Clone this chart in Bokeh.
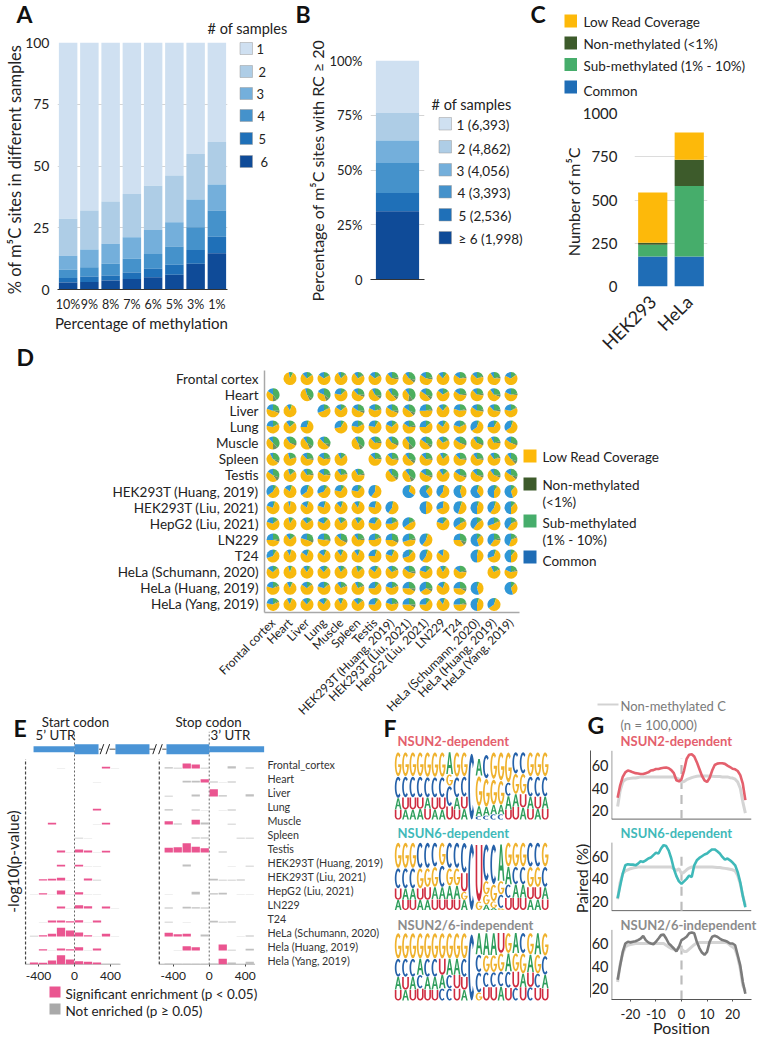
import numpy as np
from math import pi
from bokeh.plotting import figure
from bokeh.layouts import row, column
from bokeh.models import (Label, BoxAnnotation, FactorRange, Range1d, FixedTicker,
                          ColumnDataSource)
from bokeh.embed import file_html
from bokeh.resources import INLINE

FONT = "Lato"
BLUES = ["#cfe0f1", "#aecde6", "#74afdb", "#4592cb", "#1f70b8", "#0f4b98"]
C_YEL, C_DRK, C_GRN, C_BLU = "#fdb90a", "#3d5b2b", "#46ad6b", "#1f6db6"

# ---------- panel A: cumulative tops of the stack per number of samples
a_labels = ["10%", "9%", "8%", "7%", "6%", "5%", "3%", "1%"]
a_top6 = [2.8, 3.0, 3.6, 4.3, 5.0, 6.0, 10.4, 14.7]
a_top5 = [4.7, 5.3, 5.7, 6.9, 8.4, 10.0, 16.0, 21.4]
a_top4 = [8.0, 9.0, 10.4, 12.4, 14.4, 17.4, 25.2, 32.0]
a_top3 = [13.7, 16.2, 18.5, 21.2, 24.1, 27.2, 36.4, 42.5]
a_top2 = [28.6, 32.0, 35.6, 38.7, 42.0, 46.2, 54.9, 59.7]
a_top1 = [100, 100, 100, 100, 100, 100, 100, 100]
a_legend = ["1", "2", "3", "4", "5", "6"]

# ---------- panel B
b_tops = [100, 76.0, 63.5, 53.2, 39.5, 31.2]
b_legend = ["1 (6,393)", "2 (4,862)", "3 (4,056)", "4 (3,393)", "5 (2,536)", "\u2265 6 (1,998)"]

# ---------- panel C
c_cells = ["HEK293", "HeLa"]
c_common = [174, 174]
c_sub = [67, 407]
c_non = [12, 152]
c_low = [291, 157]
c_legend = ["Low Read Coverage", "Non-methylated (<1%)", "Sub-methylated (1% - 10%)", "Common"]

# ---------- panel D: per cent of each pie
d_samples = ["Frontal cortex", "Heart", "Liver", "Lung", "Muscle", "Spleen", "Testis",
             "HEK293T (Huang, 2019)", "HEK293T (Liu, 2021)", "HepG2 (Liu, 2021)", "LN229", "T24",
             "HeLa (Schumann, 2020)", "HeLa (Huang, 2019)", "HeLa (Yang, 2019)"]
d_blue = [
    [0, 3, 12, 15, 8, 10, 14, 12, 10, 15, 12, 15, 13, 9, 18],
    [15, 0, 5, 18, 22, 12, 8, 10, 10, 15, 14, 15, 12, 10, 18],
    [20, 8, 0, 30, 15, 15, 18, 15, 15, 25, 12, 20, 15, 12, 22],
    [22, 10, 25, 0, 28, 22, 22, 18, 15, 25, 15, 20, 35, 25, 35],
    [12, 10, 10, 12, 0, 8, 12, 10, 10, 15, 12, 15, 10, 8, 15],
    [8, 5, 12, 15, 8, 0, 12, 12, 10, 12, 8, 12, 10, 10, 10],
    [15, 5, 10, 15, 10, 8, 0, 10, 10, 15, 10, 15, 12, 10, 15],
    [35, 15, 35, 30, 22, 22, 40, 0, 65, 60, 40, 55, 60, 50, 55],
    [20, 5, 15, 20, 12, 10, 22, 40, 0, 50, 30, 45, 50, 40, 50],
    [20, 4, 12, 18, 8, 8, 22, 25, 35, 0, 20, 35, 40, 30, 40],
    [25, 10, 20, 22, 12, 10, 25, 25, 30, 40, 0, 25, 55, 40, 45],
    [30, 8, 15, 15, 10, 10, 25, 20, 30, 40, 15, 0, 50, 30, 50],
    [15, 5, 10, 12, 8, 5, 15, 12, 15, 20, 8, 15, 0, 8, 18],
    [20, 8, 15, 20, 10, 8, 25, 20, 25, 35, 15, 25, 55, 0, 55],
    [22, 8, 12, 15, 8, 12, 25, 20, 25, 25, 10, 25, 50, 35, 0],
]
d_green = [
    [0, 8, 14, 15, 12, 14, 14, 22, 28, 22, 10, 20, 18, 20, 14],
    [40, 0, 35, 35, 12, 25, 28, 30, 40, 30, 15, 22, 22, 25, 22],
    [25, 5, 0, 15, 12, 25, 18, 25, 30, 20, 10, 20, 22, 22, 15],
    [15, 12, 5, 0, 8, 15, 8, 12, 20, 12, 8, 15, 5, 8, 5],
    [38, 25, 33, 28, 0, 35, 20, 25, 38, 30, 15, 25, 25, 20, 25],
    [28, 18, 22, 20, 12, 0, 20, 22, 28, 22, 12, 22, 22, 18, 30],
    [30, 12, 20, 20, 18, 20, 0, 30, 35, 25, 12, 25, 25, 25, 28],
    [8, 5, 5, 8, 8, 10, 2, 0, 5, 10, 3, 5, 5, 8, 10],
    [5, 2, 4, 4, 5, 5, 3, 3, 0, 2, 2, 5, 5, 5, 10],
    [12, 8, 12, 10, 12, 10, 8, 15, 15, 0, 10, 15, 12, 15, 15],
    [22, 12, 25, 22, 25, 20, 15, 25, 20, 5, 0, 30, 10, 20, 15],
    [8, 3, 5, 6, 6, 5, 5, 6, 10, 5, 2, 0, 3, 5, 10],
    [12, 5, 8, 10, 10, 12, 8, 15, 22, 12, 8, 20, 0, 15, 18],
    [15, 6, 12, 12, 15, 15, 10, 15, 25, 25, 5, 25, 5, 0, 10],
    [15, 5, 10, 8, 6, 12, 8, 18, 25, 10, 5, 20, 5, 5, 0],
]
d_dark = [
    [0, 0, 2, 2, 2, 3, 3, 5, 8, 5, 0, 4, 3, 5, 2],
    [10, 0, 8, 10, 2, 6, 8, 8, 12, 8, 2, 5, 5, 6, 4],
    [6, 0, 0, 3, 2, 6, 4, 6, 8, 5, 2, 4, 5, 5, 3],
    [3, 2, 0, 0, 1, 3, 1, 2, 5, 2, 1, 3, 1, 1, 1],
    [12, 7, 10, 8, 0, 10, 5, 7, 12, 8, 3, 6, 6, 5, 6],
    [7, 3, 5, 4, 2, 0, 5, 5, 8, 5, 2, 5, 5, 4, 8],
    [10, 3, 5, 5, 4, 5, 0, 8, 10, 6, 2, 6, 6, 6, 8],
    [2, 1, 1, 2, 2, 2, 0, 0, 1, 2, 0, 1, 1, 2, 2],
    [1, 0, 1, 1, 1, 1, 1, 1, 0, 0, 0, 1, 1, 1, 2],
    [3, 2, 3, 2, 3, 2, 2, 4, 4, 0, 2, 4, 3, 4, 4],
    [7, 3, 7, 6, 8, 5, 4, 8, 6, 1, 0, 10, 3, 6, 4],
    [2, 1, 1, 1, 1, 1, 1, 1, 2, 1, 0, 0, 1, 1, 2],
    [3, 1, 2, 2, 3, 3, 2, 4, 7, 3, 2, 5, 0, 3, 5],
    [4, 1, 3, 3, 4, 4, 2, 4, 8, 8, 1, 8, 1, 0, 2],
    [4, 1, 2, 2, 1, 3, 2, 5, 8, 2, 1, 6, 1, 1, 0],
]
PIE_COLS = dict(green="#4caf5f", dark="#6f8f62", yellow="#f7b90e", blue="#2f97d6")

# ---------- panel E: (bin start, bar height) per row; one row is 42 height units
e_rows = ["Frontal_cortex", "Heart", "Liver", "Lung", "Muscle", "Spleen", "Testis",
          "HEK293T (Huang, 2019)", "HEK293T (Liu, 2021)", "HepG2 (Liu, 2021)", "LN229", "T24",
          "HeLa (Schumann, 2020)", "Hela (Huang, 2019)", "Hela (Yang, 2019)"]
e_start_sig = [
    [(300, 5)], [], [], [(200, 5)], [(-300, 5), (300, 5)], [],
    [(-200, 6), (0, 9), (100, 6), (300, 5)],
    [(-200, 5), (0, 5)],
    [(-400, 4), (-300, 5), (-200, 8), (100, 6)],
    [(-400, 4), (-200, 12), (0, 7)],
    [(-200, 6), (0, 10), (100, 7), (300, 6)],
    [(-300, 6), (-200, 6), (-100, 4), (0, 7), (200, 6)],
    [(-400, 4), (-300, 8), (-200, 26), (-100, 18), (0, 12), (100, 4), (300, 8)],
    [(-400, 4), (-200, 6), (-100, 4), (0, 10), (200, 6)],
    [(-500, 6), (-400, 5), (-300, 12), (-200, 28), (-100, 15), (0, 10), (100, 8), (200, 6)],
]
e_start_not = [
    [(-200, 1), (400, 1)], [(200, 1)], [], [], [(200, 1)], [(0, 2), (100, 1)],
    [(-100, 1), (200, 1)], [(100, 1), (200, 1)], [(-100, 1), (200, 2)],
    [(-500, 1), (-300, 1), (-100, 1), (100, 1), (200, 1)], [(-100, 1), (400, 1)],
    [(-400, 1), (100, 1)], [(-500, 2), (200, 1), (400, 1)], [(-300, 1), (100, 1)],
    [(300, 2), (400, 2)],
]
e_stop_sig = [
    [(-300, 15), (-200, 12)], [(-100, 10)], [(0, 22)], [], [(-500, 10), (-200, 14)], [],
    [(-500, 14), (-400, 16), (-300, 28), (-200, 17), (-100, 13)],
    [], [], [], [], [],
    [(-500, 11), (-400, 7), (-300, 8)], [(-300, 13), (-200, 10), (100, 18)], [(100, 17)],
]
e_stop_not = [
    [(-500, 4), (-400, 2), (-100, 2), (200, 7), (400, 3)],
    [(-300, 5), (-200, 5), (0, 3), (100, 1), (200, 3)],
    [(-500, 2), (-200, 6), (100, 4), (400, 7)],
    [(-500, 4), (-200, 3), (-100, 1), (100, 1), (200, 3)],
    [(-400, 3), (-100, 6), (200, 2)],
    [(-200, 3), (-100, 3), (300, 2), (400, 2)],
    [(100, 3)],
    [(-300, 6), (200, 1), (400, 2)],
    [(0, 5), (100, 2), (200, 2), (300, 3)],
    [(-500, 1), (-200, 8), (0, 4), (100, 5), (300, 1), (400, 1)],
    [(-500, 3), (-300, 5), (-200, 4), (-100, 3)],
    [(-500, 2), (-300, 1), (0, 5), (100, 2), (200, 3)],
    [(-100, 6), (300, 1), (400, 3)],
    [(-400, 1), (200, 2), (400, 5)],
    [(-500, 3), (-400, 2), (-300, 2), (-200, 2), (-100, 2), (0, 3), (200, 6), (300, 1), (400, 8)],
]

# ---------- panel F: letters top to bottom and their heights, per position
f_titles = ["NSUN2-dependent", "NSUN6-dependent", "NSUN2/6-independent"]
f_colors = ["#e4606d", "#3fb9b9", "#8c8c8c"]
f1_letters = ["GCAU", "GCUA", "GCUA", "GCUA", "GCAU", "GCUA", "GCUA", "AGCU", "GCAU", "GCUA", "C",
              "AGAC", "CGAC", "GGAC", "GGAC", "GCAU", "CGAU", "CGUA", "GCAU", "GCUA", "GCAU"]
f1_heights = [[.36, .32, .17, .15], [.36, .31, .18, .15], [.36, .31, .18, .15], [.36, .31, .17, .16],
              [.37, .30, .17, .16], [.37, .30, .18, .15], [.37, .30, .18, .15], [.33, .17, .30, .20],
              [.37, .30, .18, .15], [.36, .30, .18, .16], [1.0],
              [.25, .45, .15, .05], [.35, .42, .13, .06], [.40, .38, .14, .08], [.42, .36, .14, .08],
              [.45, .20, .20, .15], [.32, .30, .19, .19], [.32, .30, .20, .18], [.36, .30, .18, .16],
              [.36, .30, .18, .16], [.36, .30, .18, .16]]
f2_letters = ["GCUA", "GCAU", "GCAU", "CGUA", "CGUA", "CGAU", "GCAU", "CGAU", "CGAU", "CUGA", "C",
              "UG", "CGGA", "CGGA", "AGCG", "GACU", "GCAU", "GCAU", "CGUA", "CGUA", "GCAU"]
f2_heights = [[.38, .30, .17, .15], [.38, .30, .17, .15], [.38, .30, .17, .15], [.38, .30, .17, .15],
              [.38, .28, .19, .15], [.36, .30, .18, .16], [.34, .32, .18, .16], [.38, .26, .20, .16],
              [.38, .26, .20, .16], [.45, .28, .12, .15], [1.0],
              [.85, .13], [.55, .20, .15, .08], [.60, .25, .10, .03], [.55, .20, .20, .03],
              [.36, .26, .20, .18], [.36, .26, .20, .18], [.36, .26, .20, .18], [.36, .30, .18, .16],
              [.36, .30, .18, .16], [.36, .30, .18, .16]]
f3_letters = ["GCAU", "GCUA", "GCAU", "GACU", "GCAU", "GCAU", "GUAC", "GACC", "GAUU", "GCUA", "C",
              "ACCG", "AGCU", "AGCU", "UGCA", "GACU", "AGUC", "CGAU", "GAUC", "AGCU", "GCAU"]
f3_heights = [[.38, .27, .19, .16], [.38, .27, .19, .16], [.38, .27, .19, .16], [.38, .24, .20, .18],
              [.38, .27, .19, .16], [.38, .27, .19, .16], [.38, .24, .20, .18], [.38, .24, .20, .18],
              [.38, .24, .20, .18], [.38, .27, .19, .16], [1.0],
              [.32, .26, .30, .12], [.33, .25, .22, .20], [.33, .25, .22, .20], [.30, .27, .22, .21],
              [.30, .27, .24, .19], [.30, .27, .24, .19], [.30, .30, .20, .20], [.32, .26, .22, .20],
              [.32, .28, .21, .19], [.34, .28, .20, .18]]
LETTER_COL = {"G": "#efb22e", "C": "#2561a9", "A": "#2f9e5c", "U": "#cf2c40"}

# ---------- panel G: per cent paired, positions -25..25
g_pos = list(range(-25, 26))
g1_line = [31.6, 42.6, 50, 54, 55.6, 55, 54, 53.3, 53, 52.5, 52.5, 53.3, 54, 55.6, 56, 57, 57, 57.7, 58, 58.3,
           57.7, 56, 53.3, 47, 46, 48, 55.6, 65.8, 69.6, 70, 68, 63, 57, 51, 47, 45.5, 49, 55.6, 60.5, 61.7, 62,
           62, 61.5, 60, 58.7, 57.2, 56.7, 55.2, 51.5, 44, 29.5]
g1_gray = [23.8, 38, 45.5, 47.5, 48.4, 48.7, 49, 49, 49.5, 50, 50, 50, 50, 50, 50, 50, 50, 50, 50, 50,
           50, 50, 50, 49, 48, 45.5, 46, 47.5, 48.4, 49.3, 50, 50.5, 50.7, 50.7, 50.7, 50.7, 50.5, 50.5, 50.3, 50.3,
           50.3, 50, 50, 50, 49.3, 49, 48, 45.5, 40, 28, 18]
g2_line = [23, 34, 44.6, 52, 53, 52.6, 52.6, 52, 53.5, 55.5, 55, 56.4, 58, 58.8, 61, 63, 62.4, 66.8, 69.8, 69,
           65, 58, 49, 42.5, 37.8, 35.7, 37.8, 40, 43, 41.6, 52, 56.4, 58.5, 60, 61.5, 62.4, 64.4, 66, 66, 64.4,
           62.4, 59.4, 57, 58, 56.4, 54.4, 52, 46, 37, 25, 15]
g2_gray = [22, 37, 44.6, 47, 48, 49, 49.6, 50, 50.5, 50.5, 50.5, 50.5, 50.5, 50.5, 50.5, 50.5, 50.5, 50.5, 50.5, 50.5,
           50.5, 50.5, 49, 47.5, 49, 44.6, 46, 48, 49.6, 50.5, 50.5, 50.5, 50.5, 50.5, 50.5, 50.5, 50.5, 50.5, 50.3, 50,
           50, 49.6, 49.3, 49, 48.5, 48, 47, 43, 35.7, 25, 16.5]
g3_line = [28, 40.7, 52.6, 60, 61.5, 61, 61.5, 62, 63, 64.4, 66.8, 63, 61, 60, 59.4, 61.5, 64.4, 67.4, 68, 64.4,
           60, 58, 55.6, 53, 57, 63, 64.4, 66, 69, 69.8, 69, 61.5, 56, 52, 50, 52.6, 61.5, 66, 66.8, 66, 64.4,
           63, 62.4, 61.5, 60, 60, 58.5, 49.6, 40.7, 26, 15.6]
g3_gray = [26, 42, 51, 57, 58.5, 59, 59.5, 60, 60, 60, 60, 60, 60, 60, 60, 60, 60, 60, 60, 58.5,
           57, 55.6, 55, 54, 57, 55, 53, 53, 55, 57, 59, 60.5, 61, 61, 61, 61, 61, 61, 61, 61, 61,
           61, 61, 60.5, 58.5, 57, 55, 48, 37.8, 23, 18]
g_offsets = [157, 77, 0]
g_ticks = [20, 40, 60]

# ---------- helpers


def fig(ox, oy, w, h, fl, fr, ft, fb, x_range, y_range):
    p = figure(width=w, height=h, x_range=x_range, y_range=y_range, toolbar_location=None,
               output_backend="svg", min_border_left=fl - ox, min_border_right=ox + w - fr,
               min_border_top=ft - oy, min_border_bottom=oy + h - fb)
    p.outline_line_color = None
    p.xgrid.visible = False
    p.ygrid.visible = False
    return p


# a transparent sheet over the whole page carries free text and legend keys
ov = figure(width=758, height=1038, x_range=Range1d(0, 758), y_range=Range1d(1038, 0), toolbar_location=None,
            output_backend="svg", x_axis_type=None, y_axis_type=None, min_border=0,
            background_fill_color=None, border_fill_color=None, outline_line_color=None)
ov.xgrid.visible = False
ov.ygrid.visible = False


def txt(_p, s, x, y, size, align="left", color="#222222", bold=False, angle=0.0):
    ov.add_layout(Label(x=x, y=y, x_units="canvas", y_units="canvas", text=s, text_font=FONT,
                        text_font_size=f"{size}px", text_align=align, text_baseline="middle",
                        text_color=color, text_font_style="bold" if bold else "normal", angle=angle))


def swatch(_p, x0, y0, x1, y1, color, line="#9a9a9a"):
    ov.add_layout(BoxAnnotation(left=x0, right=x1, top=y0, bottom=y1,
                                left_units="canvas", right_units="canvas", top_units="canvas",
                                bottom_units="canvas", fill_color=color, fill_alpha=1.0,
                                line_color=line, line_width=0.5 if line else 0, line_alpha=1.0 if line else 0))


def style_axis(ax, size, color="#222222"):
    ax.major_label_text_font = FONT
    ax.major_label_text_font_size = f"{size}px"
    ax.major_label_text_color = color
    ax.major_tick_line_color = None
    ax.minor_tick_line_color = None
    ax.major_tick_out = 0
    ax.major_tick_in = 0
    ax.minor_tick_out = 0


# ---------- A
pa = fig(0, 0, 292, 370, 57, 227, 42, 289, FactorRange(factors=a_labels), Range1d(0, 100))
pa.ygrid.visible = True
pa.ygrid.ticker = FixedTicker(ticks=[0, 25, 50, 75, 100])
pa.ygrid.grid_line_color = "#d4d4d4"
pa.yaxis.ticker = FixedTicker(ticks=[0, 25, 50, 75, 100])
pa.yaxis.axis_line_color = None
style_axis(pa.yaxis[0], 14)
pa.yaxis.major_label_standoff = 8
pa.xaxis.axis_line_color = "#333333"
style_axis(pa.xaxis[0], 12.5)
pa.xaxis.major_label_standoff = 7
a_all = [a_top1, a_top2, a_top3, a_top4, a_top5, a_top6]
for i, tops in enumerate(a_all):
    bottoms = a_all[i + 1] if i < 5 else [0] * 8
    pa.vbar(x=a_labels, top=tops, bottom=bottoms, width=0.87, color=BLUES[i], line_color=None)
txt(pa, "A", 16, 13, 23, bold=True, color="#111111")
txt(pa, "% of m\u2075C sites in different samples", 14, 169, 16.5, align="center", angle=pi / 2)
txt(pa, "Percentage of methylation", 141, 322, 15, align="center")
txt(pa, "# of samples", 247, 28, 14.5, align="center")
for s, ys, yc, xt in zip(a_legend, [42, 65, 87, 109, 132, 155], [48, 71, 93, 115, 138, 161],
                         [256, 258, 256, 257, 258, 260]):
    i = a_legend.index(s)
    swatch(pa, 239.5, ys, 252, ys + 12, BLUES[i])
    txt(pa, s, xt, yc, 13)

# ---------- B
pb = fig(292, 0, 238, 370, 370, 424, 60, 279, FactorRange(factors=[" "]), Range1d(0, 100))
pb.ygrid.visible = True
pb.ygrid.ticker = FixedTicker(ticks=[25, 50, 75, 100])
pb.ygrid.grid_line_color = "#d4d4d4"
pb.yaxis.ticker = FixedTicker(ticks=[0, 25, 50, 75, 100])
pb.yaxis.major_label_overrides = {0: "0", 25: "25%", 50: "50%", 75: "75%", 100: "100%"}
pb.yaxis.axis_line_color = None
style_axis(pb.yaxis[0], 13)
pb.yaxis.major_label_standoff = 8
pb.xaxis.axis_line_color = "#333333"
style_axis(pb.xaxis[0], 10)
for i, t in enumerate(b_tops):
    pb.vbar(x=[" "], top=[t], bottom=[b_tops[i + 1] if i < 5 else 0], width=0.8, color=BLUES[i], line_color=None)
txt(pb, "B", 295, 13, 23, bold=True, color="#111111")
txt(pb, "Percentage of m\u2075C sites with RC \u2265 20", 317, 170, 16, align="center", angle=pi / 2)
txt(pb, "# of samples", 471, 104, 14.5, align="center")
for i, (s, ys, yc, xt) in enumerate(zip(b_legend, [117, 140, 163, 185, 208, 231], [124, 148, 170, 192, 215, 238],
                                        [456, 457, 456, 457, 458, 458])):
    swatch(pb, 438.5, ys, 451, ys + 12.5, BLUES[i])
    txt(pb, s, xt, yc, 13.5)

# ---------- C
pc = fig(530, 0, 228, 370, 634, 707, 113, 286, FactorRange(factors=c_cells), Range1d(0, 1000))
pc.ygrid.visible = True
pc.ygrid.ticker = FixedTicker(ticks=[0, 250, 500, 750, 1000])
pc.ygrid.grid_line_color = "#dcdcdc"
pc.yaxis.ticker = FixedTicker(ticks=[0, 250, 500, 750, 1000])
pc.yaxis.axis_line_color = None
style_axis(pc.yaxis[0], 15)
pc.yaxis.major_label_standoff = 17
pc.xaxis.axis_line_color = None
style_axis(pc.xaxis[0], 18)
pc.xaxis.major_label_orientation = pi / 4
pc.xaxis.major_label_standoff = 12
base = [0, 0]
for vals, col in zip([c_common, c_sub, c_non, c_low], [C_BLU, C_GRN, C_DRK, C_YEL]):
    top = [b + v for b, v in zip(base, vals)]
    pc.vbar(x=c_cells, top=top, bottom=base, width=0.8, color=col, line_color=None)
    base = top
txt(pc, "C", 530, 13, 23, bold=True, color="#111111")
txt(pc, "Number of m\u2075C", 573, 201, 16, align="center", angle=pi / 2)
for s, col, ys, yc in zip(c_legend, [C_YEL, C_DRK, C_GRN, C_BLU], [14, 36, 57.5, 80], [21, 43, 65, 90]):
    swatch(pc, 564, ys, 576.5, ys + 13, col, line=None)
    txt(pc, s, 583, yc, 13.5)

# ---------- D
pd_ = fig(0, 370, 758, 355, 264, 519, 370, 612, FactorRange(factors=d_samples),
          FactorRange(factors=d_samples[::-1]))
style_axis(pd_.yaxis[0], 13.5)
pd_.yaxis.major_label_standoff = 6
pd_.yaxis.axis_line_color = "#a8a8a8"
pd_.yaxis.axis_line_width = 1.5
pd_.xaxis.axis_line_color = "#a8a8a8"
pd_.xaxis.axis_line_width = 1.5
style_axis(pd_.xaxis[0], 12)
pd_.xaxis.major_label_orientation = pi / 4
pd_.xaxis.major_label_standoff = 8
sx, sy, st, en, co = [], [], [], [], []
for r, name_r in enumerate(d_samples):
    for c, name_c in enumerate(d_samples):
        if r == c:
            continue
        g, d, b = d_green[r][c], d_dark[r][c], d_blue[r][c]
        cum = 0
        for v, col in zip([g, d, 100 - g - d - b, b],
                          [PIE_COLS["green"], PIE_COLS["dark"], PIE_COLS["yellow"], PIE_COLS["blue"]]):
            if v > 0:
                sx.append(name_c)
                sy.append(name_r)
                st.append(pi / 2 - cum * 2 * pi / 100)
                en.append(pi / 2 - (cum + v) * 2 * pi / 100)
                co.append(col)
                cum += v
pd_.wedge(x="x", y="y", radius=6.5, radius_units="screen", start_angle="s", end_angle="e", direction="clock",
          color="c", line_color=None, source=ColumnDataSource(dict(x=sx, y=sy, s=st, e=en, c=co)))
txt(pd_, "D", 16, 356, 23, bold=True, color="#111111")
for col, ys in zip([C_YEL, C_DRK, C_GRN, C_BLU], [449, 477, 514, 550]):
    swatch(pd_, 523, ys, 536, ys + 13, col, line=None)
for s, yc in zip(["Low Read Coverage", "Non-methylated", "(<1%)", "Sub-methylated", "(1% - 10%)", "Common"],
                 [456, 484, 501, 522, 539, 560]):
    txt(pd_, s, 542, yc, 13.5)
txt(pd_, "Non-methylated C", 620, 705, 13, color="#7a7a7a")
swatch(pd_, 597, 703, 618, 705, "#d2d2d2", line=None)

# ---------- E
STOP = 1497
PXU = 0.09
ex0, ex1 = -600, (375 - 74) / PXU
pe = fig(0, 725, 375, 313, 20, 375, 730, 964, Range1d(ex0, ex1), Range1d(0, 702))
pe.yaxis.visible = False
pe.xaxis.axis_line_color = None
pe.xaxis.ticker = FixedTicker(ticks=[-400, 0, 400, STOP - 400, STOP, STOP + 400])
pe.xaxis.major_label_overrides = {-400: "-400", 0: "0", 400: "400", STOP - 400: "-400", STOP: "0", STOP + 400: "400"}
style_axis(pe.xaxis[0], 12)
pe.xaxis.major_tick_line_color = "#444444"
pe.xaxis.major_tick_out = 2
pe.xaxis.major_label_standoff = 5


def bars(series, shift, color):
    l, r, b, t = [], [], [], []
    for i, items in enumerate(series):
        base_y = (14 - i) * 42
        for start, h in items:
            l.append(start + shift + 4)
            r.append(start + shift + 96)
            b.append(base_y)
            t.append(base_y + h)
    pe.quad(left=l, right=r, bottom=b, top=t, color=color, line_color=None)


for sh in (0, STOP):
    lo, hi = (-544, 511) if sh == 0 else (-555, 509)
    pe.segment(x0=[sh + lo], x1=[sh + hi], y0=[0.5], y1=[0.5], line_color="#777777", line_width=1)
    pe.segment(x0=[sh + lo], x1=[sh + lo], y0=[0], y1=[616], line_color="#444444", line_width=1.2, line_dash="3 2")
    pe.segment(x0=[sh], x1=[sh], y0=[0], y1=[698], line_color="#666666", line_width=1, line_dash="2 2")
bars(e_start_not, 0, "#c4c4c4")
bars(e_stop_not, STOP, "#c0c0c0")
bars(e_start_sig, 0, "#ea5590")
bars(e_stop_sig, STOP, "#ea5590")
GY = 646
gene_l = [-455, 0, 455, STOP - 475, STOP]
gene_r = [0, 267, 833, STOP, STOP + 610]
gene_half = [9, 15, 15, 15, 9]
pe.quad(left=gene_l, right=gene_r, bottom=[GY - h for h in gene_half], top=[GY + h for h in gene_half],
        color="#4a94d6", line_color=None)
for cx in (300, 365, 885, 950):
    pe.segment(x0=[cx - 15], x1=[cx + 25], y0=[GY - 15], y1=[GY + 15], line_color="#222222", line_width=1)
for xa, xb in ((272, 300), (390, 455), (833, 895), (975, STOP - 475)):
    pe.segment(x0=[xa], x1=[xb], y0=[GY], y1=[GY], line_color="#222222", line_width=0.8)
for i, name in enumerate(e_rows):
    txt(pe, name, 267, 763.5 + 14 * i, 10.7, color="#333333")
txt(pe, "E", 13, 727, 23, bold=True, color="#111111")
txt(pe, "Start codon", 75, 721, 13.3, align="center")
txt(pe, "5\u2019 UTR", 55, 734, 13.3, align="center")
txt(pe, "Stop codon", 208, 721, 13.3, align="center")
txt(pe, "3\u2019 UTR", 230, 734, 13.3, align="center")
txt(pe, "-log10(p-value)", 12, 861, 15.5, align="center", angle=pi / 2)
swatch(pe, 49, 986, 60, 997, "#ea5590", line=None)
swatch(pe, 49, 1003, 60, 1014, "#a9a9a9", line=None)
txt(pe, "Significant enrichment (p < 0.05)", 65, 993, 13.5)
txt(pe, "Not enriched (p \u2265 0.05)", 65, 1010, 13.5)

# ---------- F
CW = 7.35
LOGO_H = 68.0
pf = fig(375, 725, 190, 313, 375, 565, 745, 1010, Range1d((375 - 394) / CW, (565 - 394) / CW),
         Range1d(-10 / LOGO_H, 255 / LOGO_H))
pf.xaxis.visible = False
pf.yaxis.visible = False


def arc(rx, ry, a0, a1, n=26):
    t = np.radians(np.linspace(a0, a1, n))
    return 0.5 + rx * np.cos(t), 0.5 + ry * np.sin(t)


def shape(ch):
    if ch == "C":
        ox_, oy_ = arc(.5, .5, 48, 312)
        ix, iy = arc(.25, .37, 312, 48)
        return np.r_[ox_, ix], np.r_[oy_, iy]
    if ch == "G":
        ox_, oy_ = arc(.5, .5, 48, 360)
        ix, iy = arc(.25, .37, 345, 48)
        return np.r_[ox_, [.5, .5, .75], ix], np.r_[oy_, [.5, .38, .38], iy]
    if ch == "U":
        ox_, oy_ = arc(.5, .35, 180, 360, 16)
        ix, iy = arc(.26, .22, 360, 180, 16)
        oy_ = oy_ - .15
        iy = iy - .15
        return np.r_[[0], ox_, [1, .76], ix, [.24]], np.r_[[1], oy_, [1, 1], iy, [1]]
    return (np.array([0, .22, .33, .67, .78, 1, .62, .38, 0, .38, .5, .62, .38, 0]),
            np.array([0, 0, .28, .28, 0, 0, 1, 1, 0, .42, .82, .42, .42, 0]))


xs, ys, cs = [], [], []
for off, letters, heights in zip([2.66, 1.331, 0.0], [f1_letters, f2_letters, f3_letters],
                                 [f1_heights, f2_heights, f3_heights]):
    for col, (lt, hs) in enumerate(zip(letters, heights)):
        top = off + sum(hs)
        for ch, h in zip(lt, hs):
            sxx, syy = shape(ch)
            xs.append(list(col + .04 + sxx * .92))
            ys.append(list(top - h + syy * h * .97))
            cs.append(LETTER_COL[ch])
            top -= h
pf.patches(xs, ys, fill_color=cs, line_color=None)
txt(pf, "F", 383, 727, 23, bold=True, color="#111111")
for s, col, yc in zip(f_titles, f_colors, [740, 832, 924]):
    txt(pf, s, 397, yc, 13, color=col, bold=True)

# ---------- G
pg = fig(565, 725, 193, 313, 611, 751, 745, 999, Range1d(-27.4, 27.4), Range1d(10.6, 234.7))
tick_pos = [t + o for o in g_offsets for t in g_ticks]
pg.yaxis.ticker = FixedTicker(ticks=tick_pos)
pg.yaxis.major_label_overrides = {t + o: str(t) for o in g_offsets for t in g_ticks}
pg.yaxis.axis_line_color = None
style_axis(pg.yaxis[0], 14.5)
pg.yaxis.major_label_standoff = 3
pg.xaxis.ticker = FixedTicker(ticks=[-20, -10, 0, 10, 20])
pg.xaxis.major_label_overrides = {-20: "-20", -10: "-10", 0: "0", 10: "10", 20: "20"}
pg.xaxis.axis_line_color = "#555555"
style_axis(pg.xaxis[0], 13)
pg.xaxis.major_tick_line_color = "#555555"
pg.xaxis.major_tick_out = 2
pg.xaxis.major_label_standoff = 7
bot = [12.75, 12.0, 10.6]
tops_g = [73, 72, 72]
for o, gray, line, colr, b, t, zt in zip(g_offsets, [g1_gray, g2_gray, g3_gray], [g1_line, g2_line, g3_line],
                                         ["#e4606d", "#3fb9b9", "#7b7b7b"], bot, tops_g, [66, 62, 61]):
    pg.segment(x0=[-27.3], x1=[-27.3], y0=[b + o], y1=[t + o], line_color="#666666", line_width=1)
    if o > 0:
        pg.segment(x0=[-27.4], x1=[27.4], y0=[b + o], y1=[b + o], line_color="#666666", line_width=1)
    pg.segment(x0=[0], x1=[0], y0=[b + o], y1=[zt + o], line_color="#bcbcbc", line_width=2.2, line_dash="9 6")
    pg.line(g_pos, [v + o for v in gray], line_color="#d4d4d4", line_width=3)
    pg.line(g_pos, [v + o for v in line], line_color=colr, line_width=2.6)
swatch(pg, 589.5, 750, 590.5, 997, "#555555", line=None)
txt(pg, "G", 587, 724, 23, bold=True, color="#111111")
txt(pg, "(n = 100,000)", 620, 724, 13, color="#7a7a7a")
for s, col, yc in zip(f_titles, ["#e4606d", "#3fb9b9", "#8c8c8c"], [740, 832, 924]):
    txt(pg, s, 620, yc, 13, color=col, bold=True)
txt(pg, "Paired (%)", 581, 878, 16, align="center", angle=pi / 2)
txt(pg, "Position", 681, 1027, 16, align="center")

top_row = row(column(pa), column(pb), column(pc))
bot_row = row(column(pe), column(pf), column(pg))
sheet = column(ov, styles={"position": "absolute", "left": "0px", "top": "0px"})
page = column(top_row, column(pd_), bot_row, sheet)
open("out.html", "w").write(file_html(page, INLINE))
